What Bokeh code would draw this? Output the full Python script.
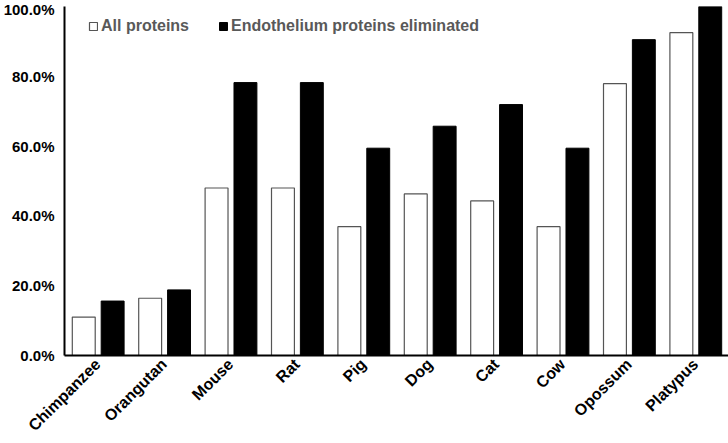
from bokeh.plotting import figure
from bokeh.models import FactorRange, ColumnDataSource, Legend, LegendItem, NumeralTickFormatter, FixedTicker
from bokeh.transform import dodge
from bokeh.embed import file_html
from bokeh.resources import INLINE

species = ["Chimpanzee", "Orangutan", "Mouse", "Rat", "Pig", "Dog", "Cat", "Cow", "Opossum", "Platypus"]
all_proteins = [0.110, 0.164, 0.480, 0.480, 0.369, 0.463, 0.443, 0.369, 0.779, 0.925]
endothelium_eliminated = [0.156, 0.188, 0.782, 0.782, 0.594, 0.657, 0.719, 0.594, 0.905, 1.000]
y_ticks = [0.0, 0.2, 0.4, 0.6, 0.8, 1.0]

src = ColumnDataSource(dict(species=species, allp=all_proteins, endo=endothelium_eliminated))

p = figure(x_range=FactorRange(*species), y_range=(0, 1.0),
           width=728, height=443, output_backend="svg", toolbar_location=None,
           min_border_left=61, min_border_right=0, min_border_top=6, min_border_bottom=86)
p.outline_line_color = None
p.xgrid.grid_line_color = None
p.ygrid.grid_line_color = None

r1 = p.vbar(x=dodge("species", -0.21, range=p.x_range), top="allp", width=0.345, source=src,
            fill_color="white", line_color="#555555", line_width=1.2)
r2 = p.vbar(x=dodge("species", 0.225, range=p.x_range), top="endo", width=0.345, source=src,
            fill_color="black", line_color="black", line_width=1)

p.yaxis.ticker = FixedTicker(ticks=y_ticks)
p.yaxis.formatter = NumeralTickFormatter(format="0.0%")
for ax in (p.xaxis[0], p.yaxis[0]):
    ax.major_tick_line_color = None
    ax.minor_tick_line_color = None
    ax.major_tick_out = 0
    ax.major_tick_in = 0
    ax.minor_tick_out = 0
    ax.minor_tick_in = 0
    ax.axis_line_color = "black"
    ax.axis_line_width = 2
    ax.major_label_text_font = "Liberation Sans"
    ax.major_label_text_font_style = "bold"
    ax.major_label_text_font_size = "15px"
    ax.major_label_text_color = "black"
p.yaxis.major_label_standoff = 10
p.xaxis.major_label_text_font_size = "16px"
p.xaxis.major_label_standoff = 6
p.xaxis.major_label_orientation = 0.785398

legend = Legend(items=[LegendItem(label="All proteins", renderers=[r1]),
                       LegendItem(label="Endothelium proteins eliminated", renderers=[r2])],
                orientation="horizontal", location=(24, 320),
                border_line_color=None, background_fill_alpha=0,
                padding=0, margin=0, spacing=29, glyph_width=10, glyph_height=10,
                label_standoff=3, label_text_font="Liberation Sans", label_text_font_style="bold",
                label_text_font_size="16px", label_text_color="#595959")
p.add_layout(legend, "center")

open("out.html", "w").write(file_html(p, INLINE))
